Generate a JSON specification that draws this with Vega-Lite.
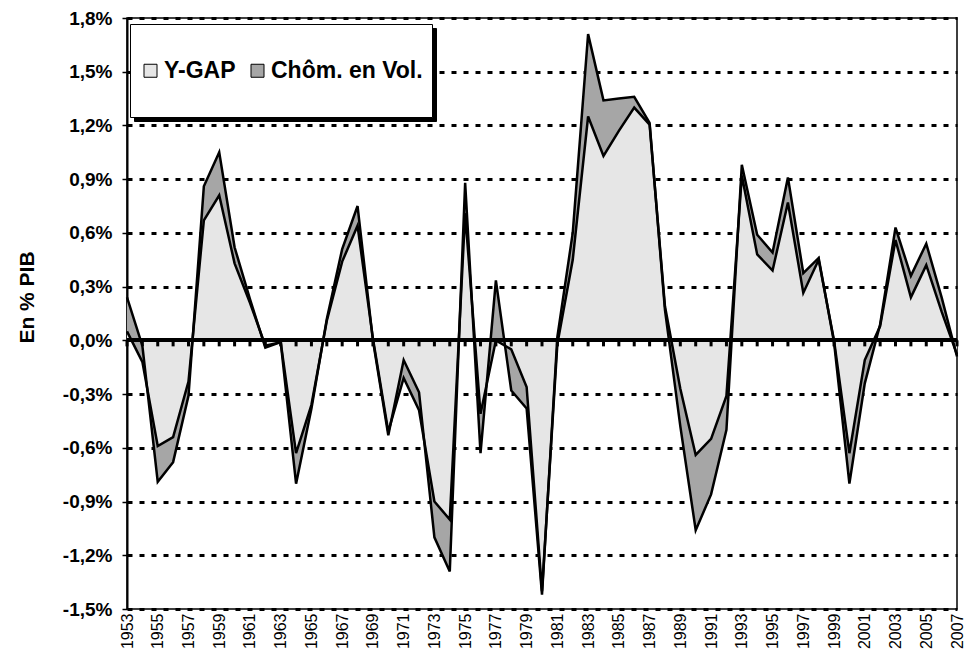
{
  "$schema": "https://vega.github.io/schema/vega-lite/v6.json",
  "width": 830,
  "height": 591,
  "autosize": "none",
  "padding": {"left": 127, "top": 18, "right": 9, "bottom": 50},
  "background": "white",
  "config": {
    "font": "Liberation Sans",
    "view": {"stroke": "black", "strokeWidth": 1.5},
    "axisX": {
      "labelAngle": -90,
      "labelAlign": "right",
      "labelBaseline": "middle",
      "labelFont": "Liberation Sans",
      "labelFontSize": 16,
      "labelColor": "black",
      "labelPadding": 4,
      "labelFlush": false,
      "labelOverlap": false,
      "labelBound": false,
      "ticks": false,
      "domain": false,
      "grid": false,
      "title": null
    },
    "axisY": {
      "labelFont": "Liberation Sans",
      "labelFontSize": 19,
      "labelFontWeight": "bold",
      "labelColor": "black",
      "labelPadding": 10,
      "labelOverlap": false,
      "tickSize": 5,
      "tickColor": "black",
      "tickWidth": 1.5,
      "domainColor": "black",
      "domainWidth": 2,
      "grid": true,
      "gridColor": "black",
      "gridWidth": 3,
      "gridDash": [5, 7],
      "gridOpacity": 1
    }
  },
  "data": {
    "values": [
      {"year": 1953, "ygap": 0.05, "total": 0.24},
      {"year": 1954, "ygap": -0.12, "total": -0.03},
      {"year": 1955, "ygap": -0.59, "total": -0.79},
      {"year": 1956, "ygap": -0.54, "total": -0.68},
      {"year": 1957, "ygap": -0.23, "total": -0.31},
      {"year": 1958, "ygap": 0.67, "total": 0.86},
      {"year": 1959, "ygap": 0.81, "total": 1.05},
      {"year": 1960, "ygap": 0.43, "total": 0.52},
      {"year": 1961, "ygap": 0.21, "total": 0.23},
      {"year": 1962, "ygap": -0.03, "total": -0.04},
      {"year": 1963, "ygap": -0.01, "total": -0.01},
      {"year": 1964, "ygap": -0.63, "total": -0.8},
      {"year": 1965, "ygap": -0.36, "total": -0.38},
      {"year": 1966, "ygap": 0.11, "total": 0.12},
      {"year": 1967, "ygap": 0.44, "total": 0.51},
      {"year": 1968, "ygap": 0.64, "total": 0.75},
      {"year": 1969, "ygap": 0.01, "total": 0.0},
      {"year": 1970, "ygap": -0.51, "total": -0.53},
      {"year": 1971, "ygap": -0.21, "total": -0.11},
      {"year": 1972, "ygap": -0.39, "total": -0.29},
      {"year": 1973, "ygap": -0.9, "total": -1.1},
      {"year": 1974, "ygap": -1.0, "total": -1.29},
      {"year": 1975, "ygap": 0.71, "total": 0.88},
      {"year": 1976, "ygap": -0.41, "total": -0.63},
      {"year": 1977, "ygap": 0.0, "total": 0.335},
      {"year": 1978, "ygap": -0.05, "total": -0.28},
      {"year": 1979, "ygap": -0.26, "total": -0.38},
      {"year": 1980, "ygap": -1.4, "total": -1.42},
      {"year": 1981, "ygap": -0.02, "total": 0.02},
      {"year": 1982, "ygap": 0.45, "total": 0.6},
      {"year": 1983, "ygap": 1.25, "total": 1.71},
      {"year": 1984, "ygap": 1.03, "total": 1.34},
      {"year": 1985, "ygap": 1.17, "total": 1.35},
      {"year": 1986, "ygap": 1.3, "total": 1.36},
      {"year": 1987, "ygap": 1.205, "total": 1.215},
      {"year": 1988, "ygap": 0.19, "total": 0.17},
      {"year": 1989, "ygap": -0.27, "total": -0.48},
      {"year": 1990, "ygap": -0.64, "total": -1.06},
      {"year": 1991, "ygap": -0.55, "total": -0.86},
      {"year": 1992, "ygap": -0.31, "total": -0.5},
      {"year": 1993, "ygap": 0.92, "total": 0.98},
      {"year": 1994, "ygap": 0.48, "total": 0.59},
      {"year": 1995, "ygap": 0.39, "total": 0.49},
      {"year": 1996, "ygap": 0.77, "total": 0.91},
      {"year": 1997, "ygap": 0.265, "total": 0.375},
      {"year": 1998, "ygap": 0.45, "total": 0.46},
      {"year": 1999, "ygap": 0.0, "total": -0.01},
      {"year": 2000, "ygap": -0.63, "total": -0.8},
      {"year": 2001, "ygap": -0.11, "total": -0.24},
      {"year": 2002, "ygap": 0.08, "total": 0.09},
      {"year": 2003, "ygap": 0.56, "total": 0.63},
      {"year": 2004, "ygap": 0.24, "total": 0.36},
      {"year": 2005, "ygap": 0.42, "total": 0.54},
      {"year": 2006, "ygap": 0.16, "total": 0.24},
      {"year": 2007, "ygap": -0.08, "total": -0.09}
    ]
  },
  "layer": [
    {
      "mark": {"type": "area", "opacity": 1, "strokeWidth": 0},
      "encoding": {
        "x": {
          "field": "year", "type": "quantitative",
          "scale": {"domain": [1953, 2007], "nice": false, "zero": false},
          "axis": {
            "values": [1953,1955,1957,1959,1961,1963,1965,1967,1969,1971,1973,1975,1977,1979,1981,1983,1985,1987,1989,1991,1993,1995,1997,1999,2001,2003,2005,2007],
            "tickCount": 100,
            "format": "d",
            "labelAngle": -90,
            "labelFontSize": 16,
            "labelOverlap": false,
            "labelFlush": false,
            "title": null
          }
        },
        "y": {
          "field": "ygap", "type": "quantitative",
          "scale": {"domain": [-1.5, 1.8], "nice": false, "zero": false},
          "axis": {
            "values": [-1.5,-1.2,-0.9,-0.6,-0.3,0,0.3,0.6,0.9,1.2,1.5,1.8],
            "tickCount": 100,
            "labelExpr": "replace(replace(format(datum.value, '.1f'), '.', ','), '\u2212', '-') + '%'",
            "title": "En % PIB",
            "titleFont": "Liberation Sans",
            "titleFontSize": 21,
            "titleFontWeight": "bold",
            "titleColor": "black",
            "titleAngle": -90,
            "titleAlign": "center",
            "titleBaseline": "middle",
            "titleX": -100,
            "titleY": 279
          }
        },
        "y2": {"datum": 0},
        "fill": {
          "datum": "Y-GAP", "type": "nominal",
          "scale": {"domain": ["Y-GAP", "Chôm. en Vol."], "range": ["#e6e6e6", "#a6a6a6"]},
          "legend": {
            "orient": "none", "legendX": 3, "legendY": 6, "direction": "horizontal",
            "title": " ", "titleFontSize": 24, "titleLineHeight": 28, "titlePadding": 2,
            "fillColor": "white", "strokeColor": "black",
            "padding": 9, "symbolType": "square", "symbolSize": 169,
            "symbolStrokeColor": "black", "symbolStrokeWidth": 1, "symbolOpacity": 1,
            "labelFont": "Liberation Sans", "labelFontSize": 23, "labelFontWeight": "bold",
            "labelColor": "black", "labelOffset": 2, "columnPadding": 10, "labelLimit": 400,
            "labelExpr": "[datum.label, ' ']", "labelLineHeight": 28, "zindex": 2
          }
        }
      }
    },
    {
      "mark": {"type": "area", "opacity": 1, "strokeWidth": 0},
      "encoding": {
        "x": {"field": "year", "type": "quantitative", "scale": {"domain": [1953, 2007], "nice": false, "zero": false}},
        "y": {"field": "total", "type": "quantitative", "scale": {"domain": [-1.5, 1.8], "nice": false, "zero": false}},
        "y2": {"field": "ygap"},
        "fill": {"datum": "Chôm. en Vol.", "type": "nominal"}
      }
    },
    {
      "mark": {"type": "rule", "color": "black", "strokeWidth": 3},
      "encoding": {
        "y": {"datum": 0, "type": "quantitative", "scale": {"domain": [-1.5, 1.8], "nice": false, "zero": false}}
      }
    },
    {
      "mark": {"type": "tick", "orient": "vertical", "color": "black", "size": 6, "thickness": 3, "yOffset": 3, "opacity": 1},
      "encoding": {
        "x": {"field": "year", "type": "quantitative", "scale": {"domain": [1953, 2007], "nice": false, "zero": false}},
        "y": {"datum": 0, "type": "quantitative", "scale": {"domain": [-1.5, 1.8], "nice": false, "zero": false}}
      }
    },
    {
      "mark": {"type": "line", "strokeWidth": 2.5, "strokeJoin": "miter"},
      "encoding": {
        "x": {"field": "year", "type": "quantitative", "scale": {"domain": [1953, 2007], "nice": false, "zero": false}},
        "y": {"field": "ygap", "type": "quantitative", "scale": {"domain": [-1.5, 1.8], "nice": false, "zero": false}},
        "stroke": {
          "datum": "Y-GAP", "type": "nominal",
          "scale": {"domain": ["Chôm. en Vol.", "Y-GAP"], "range": ["black", "black"]},
          "legend": {
            "orient": "none", "legendX": 7, "legendY": 10, "direction": "horizontal",
            "title": " ", "titleFontSize": 24, "titleLineHeight": 28, "titlePadding": 2, "titleColor": "black",
            "fillColor": "black", "strokeColor": "black",
            "padding": 9, "symbolType": "square", "symbolSize": 169,
            "symbolFillColor": "black", "symbolStrokeColor": "black", "symbolStrokeWidth": 1,
            "labelFont": "Liberation Sans", "labelFontSize": 23, "labelFontWeight": "bold",
            "labelColor": "black", "labelOffset": 2, "columnPadding": 10, "labelLimit": 400,
            "labelExpr": "[datum.label, ' ']", "labelLineHeight": 28, "zindex": 1
          }
        }
      }
    },
    {
      "mark": {"type": "line", "strokeWidth": 2.5, "strokeJoin": "miter"},
      "encoding": {
        "x": {"field": "year", "type": "quantitative", "scale": {"domain": [1953, 2007], "nice": false, "zero": false}},
        "y": {"field": "total", "type": "quantitative", "scale": {"domain": [-1.5, 1.8], "nice": false, "zero": false}},
        "stroke": {"datum": "Chôm. en Vol.", "type": "nominal"}
      }
    }
  ]
}
